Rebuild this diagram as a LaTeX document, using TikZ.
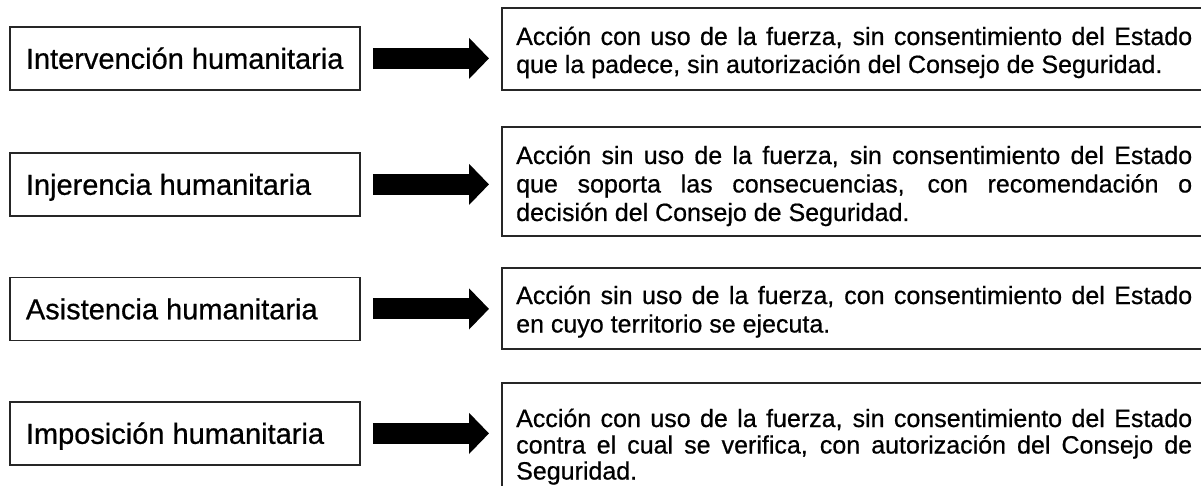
\documentclass[tikz,border=0pt]{standalone}
\usepackage{fontspec}
\setmainfont{Liberation Sans}[FakeBold=0.6]
\usetikzlibrary{arrows.meta}
\newcommand{\lefttext}[1]{\makebox[318pt][l]{#1}}
\begin{document}
\begin{tikzpicture}[x=1pt,y=-1pt,
 leftbox/.style={draw=black!85, line width=1.8pt, minimum width=350pt, minimum height=63pt, inner ysep=0pt, inner xsep=16pt, anchor=north west, font=\fontsize{29}{34}\selectfont, text height=20.8pt, text depth=0pt},
 rightbox/.style={draw=black!85, line width=2.2pt, minimum width=720pt, inner sep=0pt, anchor=north west},
 desc/.style={inner sep=0pt, anchor=base west, font=\fontsize{25}{28}\selectfont},
 bigarrow/.style={draw=black, line width=21pt, -{Triangle[width=40pt,length=20pt]}, shorten <=12pt, shorten >=12pt}]
\useasboundingbox (0,0) rectangle (1201,486);
\clip (0,0) rectangle (1201,486);
% left boxes
\node[leftbox] (l1) at (9,26) {\lefttext{Intervención humanitaria}};
\node[leftbox] (l2) at (9,152) {\lefttext{Injerencia humanitaria}};
\node[leftbox] (l3) at (9,276.5) {\lefttext{Asistencia humanitaria}};
\node[leftbox] (l4) at (9,401) {\lefttext{Imposición humanitaria}};
% right boxes
\node[rightbox, minimum height=82pt] (r1) at (501,7) {};
\node[rightbox, minimum height=109pt] (r2) at (501,126) {};
\node[rightbox, minimum height=81pt] (r3) at (501,267) {};
\node[rightbox, minimum height=118pt] (r4) at (501,382) {};
% arrows
\draw[bigarrow] (l1.east) -- (l1.east -| r1.west);
\draw[bigarrow] (l2.east) -- (l2.east -| r2.west);
\draw[bigarrow] (l3.east) -- (l3.east -| r3.west);
\draw[bigarrow] (l4.east) -- (l4.east -| r4.west);
% texts
\node[desc] (t1a) at (516,45) {\makebox[676pt][s]{Acción con uso de la fuerza, sin consentimiento del Estado}};
\node[desc] (t1b) at (516,73) {que la padece, sin autorización del Consejo de Seguridad.};
\node[desc] (t2a) at (516,164) {\makebox[676pt][s]{Acción sin uso de la fuerza, sin consentimiento del Estado}};
\node[desc] (t2b) at (516,192.5) {\makebox[676pt][s]{que soporta las consecuencias, con recomendación o}};
\node[desc] (t2c) at (516,221) {decisión del Consejo de Seguridad.};
\node[desc] (t3a) at (516,304) {\makebox[676pt][s]{Acción sin uso de la fuerza, con consentimiento del Estado}};
\node[desc] (t3b) at (516,332.5) {en cuyo territorio se ejecuta.};
\node[desc] (t4a) at (516,427) {\makebox[676pt][s]{Acción con uso de la fuerza, sin consentimiento del Estado}};
\node[desc] (t4b) at (516,453.5) {\makebox[676pt][s]{contra el cual se verifica, con autorización del Consejo de}};
\node[desc] (t4c) at (516,479.5) {Seguridad.};
\end{tikzpicture}
\end{document}
